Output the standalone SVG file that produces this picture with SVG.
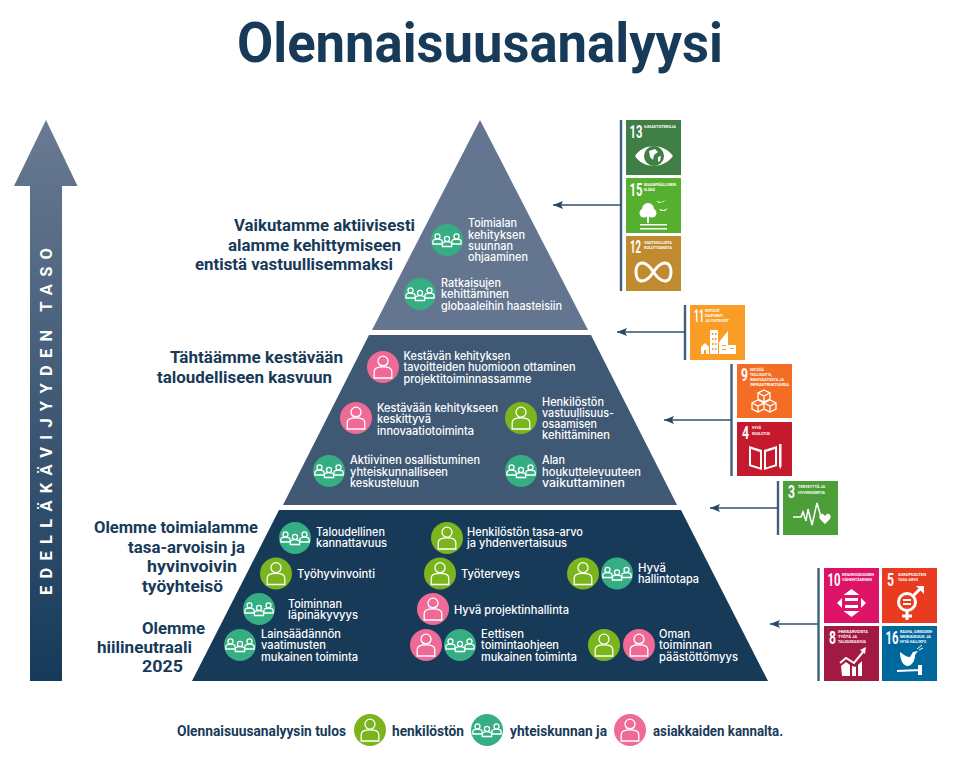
<svg xmlns="http://www.w3.org/2000/svg" width="960" height="777" viewBox="0 0 960 777">
<style>
text{font-family:Roboto,"Noto Sans","Liberation Sans",sans-serif}
.t{font-family:Inter,"Noto Sans","Liberation Sans",sans-serif;font-size:11.2px;fill:#fff;font-weight:500}
.h{font-size:16.5px;fill:#173a59;font-weight:700}
.l{font-size:14px;fill:#173a59;font-weight:700}
.n{font-size:17.5px;fill:#fff;font-weight:700}
.s{font-size:4.2px;fill:#fff;font-weight:700}
.bar{stroke:#3f5f7f;stroke-width:2.4;fill:none}
.ln{stroke:#2f5170;stroke-width:1.5;fill:none}
.ic{fill:none;stroke:#fff;stroke-width:1.3}
.w{fill:#fff}
.ws{fill:none;stroke:#fff}
</style>
<defs>
<linearGradient id="ag" x1="0" y1="0" x2="0" y2="1"><stop offset="0" stop-color="#6a7a92"/><stop offset="1" stop-color="#163a5a"/></linearGradient>
<marker id="ah" markerUnits="userSpaceOnUse" markerWidth="11" markerHeight="9" refX="10" refY="4.500" orient="auto"><path d="M10 4.500L0 0.500L2 4.500L0 8.500Z" fill="#244a6b"/></marker>
<g id="person"><circle cx="0" cy="-5.800" r="5" class="ic"/><path d="M-8.800 11V4.500C-8.800 0.800-5 -0.200 0 -0.200S8.800 0.800 8.800 4.500V11Z" class="ic"/></g>
<g id="mini"><circle cx="0" cy="-2.600" r="2.500" class="ic"/><path d="M-4.600 5V2.400C-4.600 0.800-2.400 0.200 0 0.200S4.600 0.800 4.600 2.400V5Z" class="ic"/></g>
<g id="pg"><circle r="16" fill="#7ab51d"/><use href="#person"/></g>
<g id="pp"><circle r="16" fill="#ef6a96"/><use href="#person"/><path d="M-4.500 -3.500C-3 -0.800 3 -0.800 4.500 -3.500" class="ic"/></g>
<g id="gr"><circle r="16" fill="#36ae84"/><use href="#mini" x="-9.500" y="-1"/><use href="#mini" x="9.500" y="-1"/><use href="#mini" x="0" y="1.500"/></g>
</defs>
<rect width="960" height="777" fill="#fff"/>
<text id="title" x="237" y="62" font-size="55" font-weight="700" fill="#173a59" textLength="486" lengthAdjust="spacingAndGlyphs">Olennaisuusanalyysi</text>

<g id="level-arrow">
<path d="M46 120L77.500 186H62V681H30V186H14Z" fill="url(#ag)"/>
<text transform="translate(52 595) rotate(-90)" font-size="16.500" font-weight="700" fill="#fff" textLength="347" lengthAdjust="spacing">EDELLÄKÄVIJYYDEN TASO</text>
</g>

<g id="pyramid">
<path id="tier-top" d="M480 120L588 330H372Z" fill="#64758f"/>
<path id="tier-mid" d="M369 335H591L677 505H283Z" fill="#3f5975"/>
<path id="tier-bot" d="M279 510H681L768 681H192Z" fill="#173a59"/>
</g>

<g id="headings">
<text class="h" x="234" y="231" textLength="181" lengthAdjust="spacingAndGlyphs">Vaikutamme aktiivisesti</text>
<text class="h" x="228" y="251" textLength="173" lengthAdjust="spacingAndGlyphs">alamme kehittymiseen</text>
<text class="h" x="195" y="270" textLength="198" lengthAdjust="spacingAndGlyphs">entistä vastuullisemmaksi</text>
<text class="h" x="170" y="363" textLength="173" lengthAdjust="spacingAndGlyphs">Tähtäämme kestävään</text>
<text class="h" x="157" y="383" textLength="175" lengthAdjust="spacingAndGlyphs">taloudelliseen kasvuun</text>
<text class="h" x="94" y="533" textLength="164" lengthAdjust="spacingAndGlyphs">Olemme toimialamme</text>
<text class="h" x="128" y="553" textLength="117" lengthAdjust="spacingAndGlyphs">tasa-arvoisin ja</text>
<text class="h" x="147" y="572" textLength="90" lengthAdjust="spacingAndGlyphs">hyvinvoivin</text>
<text class="h" x="142" y="592" textLength="81" lengthAdjust="spacingAndGlyphs">työyhteisö</text>
<text class="h" x="142" y="634" textLength="63" lengthAdjust="spacingAndGlyphs">Olemme</text>
<text class="h" x="97" y="653" textLength="95" lengthAdjust="spacingAndGlyphs">hiilineutraali</text>
<text class="h" x="142" y="672" textLength="41" lengthAdjust="spacingAndGlyphs">2025</text>
</g>

<g id="n1"><use href="#gr" x="447" y="240"/>
<text class="t"><tspan x="468" y="227" textLength="49" lengthAdjust="spacingAndGlyphs">Toimialan</tspan><tspan x="468" y="239" textLength="57" lengthAdjust="spacingAndGlyphs">kehityksen</tspan><tspan x="468" y="250" textLength="45" lengthAdjust="spacingAndGlyphs">suunnan</tspan><tspan x="468" y="261" textLength="60" lengthAdjust="spacingAndGlyphs">ohjaaminen</tspan></text></g>
<g id="n2"><use href="#gr" x="420" y="294"/>
<text class="t"><tspan x="441" y="287" textLength="60" lengthAdjust="spacingAndGlyphs">Ratkaisujen</tspan><tspan x="441" y="298" textLength="68" lengthAdjust="spacingAndGlyphs">kehittäminen</tspan><tspan x="441" y="310" textLength="121" lengthAdjust="spacingAndGlyphs">globaaleihin haasteisiin</tspan></text></g>

<g id="n3"><use href="#pp" x="383" y="367"/>
<text class="t"><tspan x="403.500" y="360" textLength="107" lengthAdjust="spacingAndGlyphs">Kestävän kehityksen</tspan><tspan x="403.500" y="371" textLength="172" lengthAdjust="spacingAndGlyphs">tavoitteiden huomioon ottaminen</tspan><tspan x="403.500" y="383" textLength="128" lengthAdjust="spacingAndGlyphs">projektitoiminnassamme</tspan></text></g>
<g id="n4"><use href="#pp" x="356" y="418"/>
<text class="t"><tspan x="377" y="412" textLength="121" lengthAdjust="spacingAndGlyphs">Kestävään kehitykseen</tspan><tspan x="377" y="423" textLength="54" lengthAdjust="spacingAndGlyphs">keskittyvä</tspan><tspan x="377" y="435" textLength="97" lengthAdjust="spacingAndGlyphs">innovaatiotoiminta</tspan></text></g>
<g id="n5"><use href="#pg" x="521" y="418"/>
<text class="t"><tspan x="542" y="406" textLength="62" lengthAdjust="spacingAndGlyphs">Henkilöstön</tspan><tspan x="542" y="417" textLength="72" lengthAdjust="spacingAndGlyphs">vastuullisuus-</tspan><tspan x="542" y="428" textLength="55" lengthAdjust="spacingAndGlyphs">osaamisen</tspan><tspan x="542" y="439" textLength="68" lengthAdjust="spacingAndGlyphs">kehittäminen</tspan></text></g>
<g id="n6"><use href="#gr" x="329" y="471"/>
<text class="t"><tspan x="350" y="464" textLength="130" lengthAdjust="spacingAndGlyphs">Aktiivinen osallistuminen</tspan><tspan x="350" y="476" textLength="98" lengthAdjust="spacingAndGlyphs">yhteiskunnalliseen</tspan><tspan x="350" y="487" textLength="69" lengthAdjust="spacingAndGlyphs">keskusteluun</tspan></text></g>
<g id="n7"><use href="#gr" x="521" y="471"/>
<text class="t"><tspan x="542" y="464" textLength="23" lengthAdjust="spacingAndGlyphs">Alan</tspan><tspan x="542" y="476" textLength="99" lengthAdjust="spacingAndGlyphs">houkuttelevuuteen</tspan><tspan x="542" y="487" textLength="83" lengthAdjust="spacingAndGlyphs">vaikuttaminen</tspan></text></g>

<g id="n8"><use href="#gr" x="295" y="538"/>
<text class="t"><tspan x="316" y="536" textLength="69" lengthAdjust="spacingAndGlyphs">Taloudellinen</tspan><tspan x="316" y="547" textLength="71" lengthAdjust="spacingAndGlyphs">kannattavuus</tspan></text></g>
<g id="n9"><use href="#pg" x="276" y="573.500"/>
<text class="t" x="297" y="578" textLength="78" lengthAdjust="spacingAndGlyphs">Työhyvinvointi</text></g>
<g id="n10"><use href="#gr" x="259" y="609"/>
<text class="t"><tspan x="288" y="608" textLength="54" lengthAdjust="spacingAndGlyphs">Toiminnan</tspan><tspan x="288" y="619" textLength="70" lengthAdjust="spacingAndGlyphs">läpinäkyvyys</tspan></text></g>
<g id="n11"><use href="#gr" x="240" y="645"/>
<text class="t"><tspan x="261" y="638" textLength="80" lengthAdjust="spacingAndGlyphs">Lainsäädännön</tspan><tspan x="261" y="649" textLength="65" lengthAdjust="spacingAndGlyphs">vaatimusten</tspan><tspan x="261" y="661" textLength="97" lengthAdjust="spacingAndGlyphs">mukainen toiminta</tspan></text></g>
<g id="n12"><use href="#pg" x="447" y="538"/>
<text class="t"><tspan x="467" y="536" textLength="116" lengthAdjust="spacingAndGlyphs">Henkilöstön tasa-arvo</tspan><tspan x="467" y="547" textLength="100" lengthAdjust="spacingAndGlyphs">ja yhdenvertaisuus</tspan></text></g>
<g id="n13"><use href="#pg" x="440" y="573.500"/>
<text class="t" x="461" y="578" textLength="59" lengthAdjust="spacingAndGlyphs">Työterveys</text></g>
<g id="n14"><use href="#pg" x="583" y="573.500"/><use href="#gr" x="617" y="573.500"/>
<text class="t"><tspan x="638" y="572" textLength="28" lengthAdjust="spacingAndGlyphs">Hyvä</tspan><tspan x="638" y="583" textLength="61" lengthAdjust="spacingAndGlyphs">hallintotapa</tspan></text></g>
<g id="n15"><use href="#pp" x="433" y="609"/>
<text class="t" x="454" y="614" textLength="115" lengthAdjust="spacingAndGlyphs">Hyvä projektinhallinta</text></g>
<g id="n16"><use href="#pp" x="426" y="645"/><use href="#gr" x="460" y="645"/>
<text class="t"><tspan x="481" y="638" textLength="43" lengthAdjust="spacingAndGlyphs">Eettisen</tspan><tspan x="481" y="649" textLength="78" lengthAdjust="spacingAndGlyphs">toimintaohjeen</tspan><tspan x="481" y="661" textLength="96" lengthAdjust="spacingAndGlyphs">mukainen toiminta</tspan></text></g>
<g id="n17"><use href="#pg" x="604" y="645"/><use href="#pp" x="639" y="645"/>
<text class="t"><tspan x="659" y="638" textLength="31" lengthAdjust="spacingAndGlyphs">Oman</tspan><tspan x="659" y="649" textLength="53" lengthAdjust="spacingAndGlyphs">toiminnan</tspan><tspan x="659" y="661" textLength="79" lengthAdjust="spacingAndGlyphs">päästöttömyys</tspan></text></g>

<g id="connectors">
<path class="bar" d="M621 120V291"/><path class="ln" d="M621 205H553" marker-end="url(#ah)"/>
<path class="bar" d="M685 305V360"/><path class="ln" d="M685 332H617" marker-end="url(#ah)"/>
<path class="bar" d="M731.500 364V476"/><path class="ln" d="M731.500 420H664" marker-end="url(#ah)"/>
<path class="bar" d="M778 481V535"/><path class="ln" d="M778 508H710" marker-end="url(#ah)"/>
<path class="bar" d="M818.500 568V681"/><path class="ln" d="M818.500 624H770" marker-end="url(#ah)"/>
</g>

<g id="sdg13" transform="translate(626 120)"><rect width="55" height="55" fill="#3f7e44"/>
<text class="n" x="3.500" y="18" textLength="13" lengthAdjust="spacingAndGlyphs">13</text>
<text class="s" x="18" y="8" textLength="32" lengthAdjust="spacingAndGlyphs">ILMASTOTEKOJA</text>
<path class="w" d="M9 36C17 23 38 23 47 36C38 49 17 49 9 36Z"/><circle cx="28" cy="36" r="10" fill="#3f7e44"/><path class="w" d="M23 31l6-2 3 3-4 3-1 5-3-3ZM32 37l3-1-1 5-2 1Z"/></g>
<g id="sdg15" transform="translate(626 178)"><rect width="55" height="55" fill="#56af2e"/>
<text class="n" x="3.500" y="18" textLength="13" lengthAdjust="spacingAndGlyphs">15</text>
<text class="s"><tspan x="18" y="8" textLength="32" lengthAdjust="spacingAndGlyphs">MAANPÄÄLLINEN</tspan><tspan x="18" y="13" textLength="11" lengthAdjust="spacingAndGlyphs">ELÄMÄ</tspan></text>
<circle class="w" cx="22" cy="31" r="6"/><circle class="w" cx="18" cy="35" r="4.500"/><circle class="w" cx="26" cy="35" r="4.500"/><rect class="w" x="21" y="36" width="2" height="9"/>
<path class="w" d="M30 23l5 1 5-2-3 2-4 1ZM33 31l5 1 4-2-3 3-4 0Z"/><rect class="w" x="14" y="46" width="27" height="1.500"/><rect class="w" x="14" y="50" width="27" height="1.500"/></g>
<g id="sdg12" transform="translate(626 236)"><rect width="55" height="55" fill="#bf8b2e"/>
<text class="n" x="4" y="17" textLength="11" lengthAdjust="spacingAndGlyphs">12</text>
<text class="s"><tspan x="18" y="8" textLength="28" lengthAdjust="spacingAndGlyphs">VASTUULLISTA</tspan><tspan x="18" y="13" textLength="28" lengthAdjust="spacingAndGlyphs">KULUTTAMISTA</tspan></text>
<path class="ws" stroke-width="3" d="M27.500 36C23 29 19 27 16 27C12 27 10 31 10 36C10 41 12 45 16 45C19 45 23 43 27.500 36C32 29 36 27 39 27C43 27 45 31 45 36C45 41 43 45 39 45C36 45 32 43 27.500 36Z"/></g>
<g id="sdg11" transform="translate(690 305)"><rect width="55" height="55" fill="#f99d26"/>
<text class="n" x="4" y="17" textLength="10" lengthAdjust="spacingAndGlyphs">11</text>
<text class="s"><tspan x="15" y="7" textLength="15" lengthAdjust="spacingAndGlyphs">KESTÄVÄT</tspan><tspan x="15" y="12" textLength="18" lengthAdjust="spacingAndGlyphs">KAUPUNGIT</tspan><tspan x="15" y="17" textLength="24" lengthAdjust="spacingAndGlyphs">JA YHTEISÖT</tspan></text>
<path class="w" d="M20 25h8v24h-8ZM11 49v-7l4-4 4 4v7ZM29 49V37l9-11v23ZM38 40h8v9h-8Z"/>
<path fill="#f99d26" d="M22 28h1.500v2H22ZM25 28h1.500v2H25ZM22 33h1.500v2H22ZM25 33h1.500v2H25ZM22 38h1.500v2H22ZM25 38h1.500v2H25ZM22 43h1.500v2H22ZM25 43h1.500v2H25ZM14 45h2v4h-2ZM32 40h4v1h-4ZM32 44h4v1h-4ZM40 43h4v1h-4Z"/></g>
<g id="sdg9" transform="translate(737 364)"><rect width="55" height="54" fill="#f36d25"/>
<text class="n" x="4" y="17" textLength="7" lengthAdjust="spacingAndGlyphs">9</text>
<text class="s"><tspan x="13" y="7" textLength="14" lengthAdjust="spacingAndGlyphs">KESTÄVÄÄ</tspan><tspan x="13" y="12" textLength="22" lengthAdjust="spacingAndGlyphs">TEOLLISUUTTA,</tspan><tspan x="13" y="17" textLength="34" lengthAdjust="spacingAndGlyphs">INNOVAATIOITA JA</tspan><tspan x="13" y="22" textLength="39" lengthAdjust="spacingAndGlyphs">INFRASTRUKTUURIA</tspan></text>
<path class="ws" stroke-width="1.300" d="M27 26l6 3v6l-6 3-6-3v-6ZM21 29l6 3 6-3M27 32v6M21 36l6 3v6l-6 3-6-3v-6ZM15 39l6 3 6-3M21 42v6M33 36l6 3v6l-6 3-6-3v-6ZM27 39l6 3 6-3M33 42v6"/></g>
<g id="sdg4" transform="translate(737 422)"><rect width="55" height="54" fill="#c5192d"/>
<text class="n" x="5" y="17" textLength="7" lengthAdjust="spacingAndGlyphs">4</text>
<text class="s"><tspan x="15" y="7" textLength="9" lengthAdjust="spacingAndGlyphs">HYVÄ</tspan><tspan x="15" y="12.500" textLength="18" lengthAdjust="spacingAndGlyphs">KOULUTUS</tspan></text>
<path class="w" d="M12 24l13 4v20l-13-4ZM40 24l-13 4v20l13-4Z"/><path fill="#c5192d" d="M14 27l9 3v15.500l-9-3ZM38 27l-9 3v15.500l9-3Z"/><path class="w" d="M42 22h2.500v22l-1.250 3-1.250-3Z"/></g>
<g id="sdg3" transform="translate(783 481)"><rect width="55" height="54" fill="#4c9f38"/>
<text class="n" x="5" y="17" textLength="7" lengthAdjust="spacingAndGlyphs">3</text>
<text class="s"><tspan x="15" y="7" textLength="27" lengthAdjust="spacingAndGlyphs">TERVEYTTÄ JA</tspan><tspan x="15" y="12.500" textLength="27" lengthAdjust="spacingAndGlyphs">HYVINVOINTIA</tspan></text>
<path class="ws" stroke-width="1.500" d="M10 36H18L20 31L23 40L25 28L29 44L34 22L38 36"/><path class="w" d="M42 43l-4.500-4.500C35 36 37 32 40 33L42 35L44 33C47 32 49 36 46.500 38.500Z"/></g>
<g id="sdg10" transform="translate(824 568)"><rect width="55" height="55" fill="#dd1367"/>
<text class="n" x="3.500" y="18" textLength="13" lengthAdjust="spacingAndGlyphs">10</text>
<text class="s"><tspan x="18" y="8" textLength="32" lengthAdjust="spacingAndGlyphs">ERIARVOISUUDEN</tspan><tspan x="18" y="13" textLength="30" lengthAdjust="spacingAndGlyphs">VÄHENTÄMINEN</tspan></text>
<path class="w" d="M27.500 21l8 6h-16ZM27.500 49l8-6h-16ZM13 35l5-5v10ZM42 35l-5-5v10ZM21 30h13v3H21ZM21 37h13v3H21Z"/></g>
<g id="sdg5" transform="translate(882 568)"><rect width="55" height="55" fill="#e83b1f"/>
<text class="n" x="5" y="18" textLength="7" lengthAdjust="spacingAndGlyphs">5</text>
<text class="s"><tspan x="16" y="8" textLength="28" lengthAdjust="spacingAndGlyphs">SUKUPUOLTEN</tspan><tspan x="16" y="13" textLength="20" lengthAdjust="spacingAndGlyphs">TASA-ARVO</tspan></text>
<circle class="ws" stroke-width="3" cx="25" cy="34" r="8.500"/><path class="ws" stroke-width="3" d="M25 43V52M20 48H30M31 28L39 20"/><path class="w" d="M34 18h8v8ZM21 31h8v2h-8ZM21 35h8v2h-8Z"/></g>
<g id="sdg8" transform="translate(824 626)"><rect width="55" height="55" fill="#a21942"/>
<text class="n" x="5" y="18" textLength="7" lengthAdjust="spacingAndGlyphs">8</text>
<text class="s"><tspan x="14" y="7" textLength="30" lengthAdjust="spacingAndGlyphs">IHMISARVOISTA</tspan><tspan x="14" y="12" textLength="19" lengthAdjust="spacingAndGlyphs">TYÖTÄ JA</tspan><tspan x="14" y="17" textLength="28" lengthAdjust="spacingAndGlyphs">TALOUSKASVUA</tspan></text>
<path class="w" d="M17 40l5-4 4 3v11h-8ZM28 40l4 1v9h-4ZM34 39l4-4v15h-4Z"/><path class="ws" stroke-width="2" d="M16 37l6-5 8 5 9-11"/><path class="w" d="M36 24l6-3-1 7Z"/></g>
<g id="sdg16" transform="translate(882 626)"><rect width="55" height="55" fill="#00689d"/>
<text class="n" x="3.500" y="18" textLength="13" lengthAdjust="spacingAndGlyphs">16</text>
<text class="s"><tspan x="18" y="7" textLength="33" lengthAdjust="spacingAndGlyphs">RAUHA, OIKEUDEN-</tspan><tspan x="18" y="12" textLength="31" lengthAdjust="spacingAndGlyphs">MUKAISUUS JA</tspan><tspan x="18" y="17" textLength="26" lengthAdjust="spacingAndGlyphs">HYVÄ HALLINTO</tspan></text>
<path class="w" d="M18 26C22 29 25 31 28 31L31 26L36 25L33 29C33 35 30 40 25 40C20 39 18 32 18 26ZM15 44L38 43V45L15 46ZM36 39h4v10h-4Z"/><path class="ws" d="M35 23l5-4M37 24l4-2"/></g>

<g id="legend">
<text class="l" x="177" y="736" textLength="169" lengthAdjust="spacingAndGlyphs">Olennaisuusanalyysin tulos</text>
<use href="#pg" x="370" y="730"/>
<text class="l" x="392" y="736" textLength="72" lengthAdjust="spacingAndGlyphs">henkilöstön</text>
<use href="#gr" x="487" y="730"/>
<text class="l" x="510" y="736" textLength="97" lengthAdjust="spacingAndGlyphs">yhteiskunnan ja</text>
<use href="#pp" x="630" y="730"/>
<text class="l" x="653" y="736" textLength="130" lengthAdjust="spacingAndGlyphs">asiakkaiden kannalta.</text>
</g>
</svg>
